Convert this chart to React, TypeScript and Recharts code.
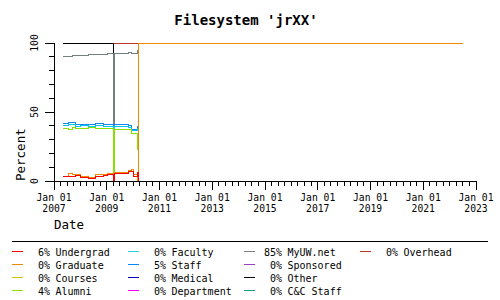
import React from "react";
import { LineChart, Line, XAxis, YAxis } from "recharts";

// sample times (decimal years) and the plotted level of each visible line
const times = [2007.36, 2007.55, 2007.7, 2007.81, 2008.0, 2008.31, 2008.57, 2008.88, 2009.03, 2009.25, 2009.29, 2009.52, 2009.82, 2009.94, 2010.01, 2010.17, 2010.2, 2022.51];

const undergrad = [2.9, 3.3, 3.3, 3.9, 2.4, 2.0, 3.3, 4.2, 4.4, 0, 5.6, 5.6, 6.8, 6.8, 3.1, 6.0, 0, 0];
const graduate = [3.6, 5.4, 4.4, 4.6, 3.2, 2.8, 4.4, 4.9, 5.1, 0, 6.4, 6.4, 7.8, 8.3, 4.4, 0, 100, 100];
const alumni = [38.3, 37.5, 38.8, 37.8, 38.3, 38.5, 38.3, 38.3, 38.3, 0, 37.5, 37.5, 37.5, 34.6, 34.6, 22.5, null, null];
const faculty = [40.5, 40.9, 41.0, 39.5, 40.0, 39.8, 40.2, 39.7, 39.6, 0, 39.3, 39.3, 38.9, 36.3, 36.3, 38.6, null, null];
const staff = [41.9, 42.3, 42.6, 40.7, 41.2, 41.2, 41.5, 40.9, 40.7, 0, 40.7, 40.7, 40.2, 37.5, 37.5, 40.0, null, null];
const myuw = [90.4, 90.4, 91.1, 91.1, 91.1, 91.8, 91.8, 91.8, 92.5, 0, 92.5, 92.5, 93.2, 92.5, 92.5, 95.1, null, null];
const other = [99.4, 99.4, 99.4, 99.4, 99.4, 99.4, 99.4, 99.4, 99.4, 92.5, 92.5, 92.5, 93.2, 92.5, 92.5, 95.1, null, null];
const overhead = [100, 100, 100, 100, 100, 100, 100, 100, 100, 100, 100, 100, 100, 100, 100, 100, 100, null];

const legendNames = ["Undergrad", "Graduate", "Courses", "Alumni", "Faculty", "Staff", "Medical", "Department", "MyUW.net", "Sponsored", "Other", "C&C Staff", "Overhead"];
const legendPcts = [6, 0, 0, 4, 0, 5, 0, 0, 85, 0, 0, 0, 0];
const legendColors = ["#ff0000", "#f08800", "#d8c000", "#88e000", "#20d8e8", "#0088ff", "#0000c0", "#ff00ff", "#808080", "#a040c0", "#000000", "#20a080", "#c03828"];

const years = [2007, 2009, 2011, 2013, 2015, 2017, 2019, 2021, 2023];
const yLabels = [0, 50, 100];

const data = times.map((t, i) => ({
  t,
  undergrad: undergrad[i],
  graduate: graduate[i],
  alumni: alumni[i],
  faculty: faculty[i],
  staff: staff[i],
  myuw: myuw[i],
  other: other[i],
  overhead: overhead[i],
}));

// drawn top-of-stack first so lower lines end up on top
const drawOrder: [string, string][] = [
  ["overhead", "#c03828"],
  ["other", "#000000"],
  ["myuw", "#748080"],
  ["staff", "#1088f0"],
  ["faculty", "#00c8e8"],
  ["alumni", "#88e000"],
  ["graduate", "#f08800"],
  ["undergrad", "#ff0000"],
];

const xTicks: number[] = [];
for (let q = 0; q <= 64; q++) xTicks.push(2007 + q * 0.25);
const yTicks = [0, 10, 20, 30, 40, 50, 60, 70, 80, 90, 100];

const mono = "'DejaVu Sans Mono', monospace";

const XTick = (props: any) => {
  const { x, y, payload } = props;
  const v = payload.value;
  const yr = Math.round(v);
  const major = Math.abs(v - yr) < 1e-6 && years.includes(yr);
  return (
    <g>
      <line x1={x} x2={x} y1={y} y2={y + (major ? 9 : 5)} stroke="#000" />
      {major && (
        <text x={x} y={y + 20} textAnchor="middle" fontFamily={mono} fontSize={9.7} fill="#000">
          <tspan x={x}>Jan 01</tspan>
          <tspan x={x} dy={11}>{yr}</tspan>
        </text>
      )}
    </g>
  );
};

const YTick = (props: any) => {
  const { x, y, payload } = props;
  const v = payload.value;
  const major = yLabels.includes(v);
  return (
    <g>
      <line x1={x - (major ? 9 : 5)} x2={x} y1={y} y2={y} stroke="#000" />
      {major && (
        <text transform={`translate(${x - 16},${y}) rotate(-90)`} textAnchor="middle" fontFamily={mono} fontSize={9.7} fill="#000">
          {v}
        </text>
      )}
    </g>
  );
};

export default function App() {
  const colX = [12, 128, 244, 360];
  const rowY = [255.5, 268.5, 281.5, 294.5];
  return (
    <div style={{ position: "absolute", left: 0, top: 0, width: 500, height: 300, background: "#fff" }}>
      <style>{`.recharts-surface *{shape-rendering:crispEdges}`}</style>
      <LineChart width={500} height={300} data={data} margin={{ top: 43, right: 24, bottom: 0, left: 0 }}>
        <XAxis
          dataKey="t"
          type="number"
          domain={[2007, 2023]}
          ticks={xTicks}
          interval={0}
          height={119}
          tickSize={0}
          tickMargin={0}
          tick={XTick}
          tickLine={false}
          axisLine={{ stroke: "#000" }}
        />
        <YAxis
          type="number"
          domain={[0, 100]}
          ticks={yTicks}
          interval={0}
          width={54}
          tickSize={0}
          tickMargin={0}
          tick={YTick}
          tickLine={false}
          axisLine={{ stroke: "#000" }}
        />
        {drawOrder.map(([key, color]) => (
          <Line
            key={key}
            dataKey={key}
            type="stepAfter"
            stroke={color}
            strokeWidth={1}
            dot={false}
            activeDot={false}
            isAnimationActive={false}
          />
        ))}
      </LineChart>
      <svg width={500} height={300} style={{ position: "absolute", left: 0, top: 0, pointerEvents: "none" }}>
        <text x={246} y={25} textAnchor="middle" fontFamily={mono} fontSize={14} fontWeight="bold" fill="#000">
          Filesystem 'jrXX'
        </text>
        <text transform="translate(25,181) rotate(-90)" fontFamily={mono} fontSize={12.5} fill="#000">
          Percent
        </text>
        <text x={54} y={229} fontFamily={mono} fontSize={12.5} fill="#000">
          Date
        </text>
        <line x1={12} x2={488} y1={241.5} y2={241.5} stroke="#000" />
        {legendNames.map((name, i) => {
          const cx = colX[Math.floor(i / 4)];
          const ry = rowY[i % 4];
          return (
            <g key={name}>
              <line x1={cx} x2={cx + 11} y1={ry - 4} y2={ry - 4} stroke={legendColors[i]} />
              <text x={cx + 38} y={ry} textAnchor="end" fontFamily={mono} fontSize={10} fill="#000">
                {legendPcts[i]}%
              </text>
              <text x={cx + 43.5} y={ry} fontFamily={mono} fontSize={10} fill="#000">
                {name}
              </text>
            </g>
          );
        })}
      </svg>
    </div>
  );
}
